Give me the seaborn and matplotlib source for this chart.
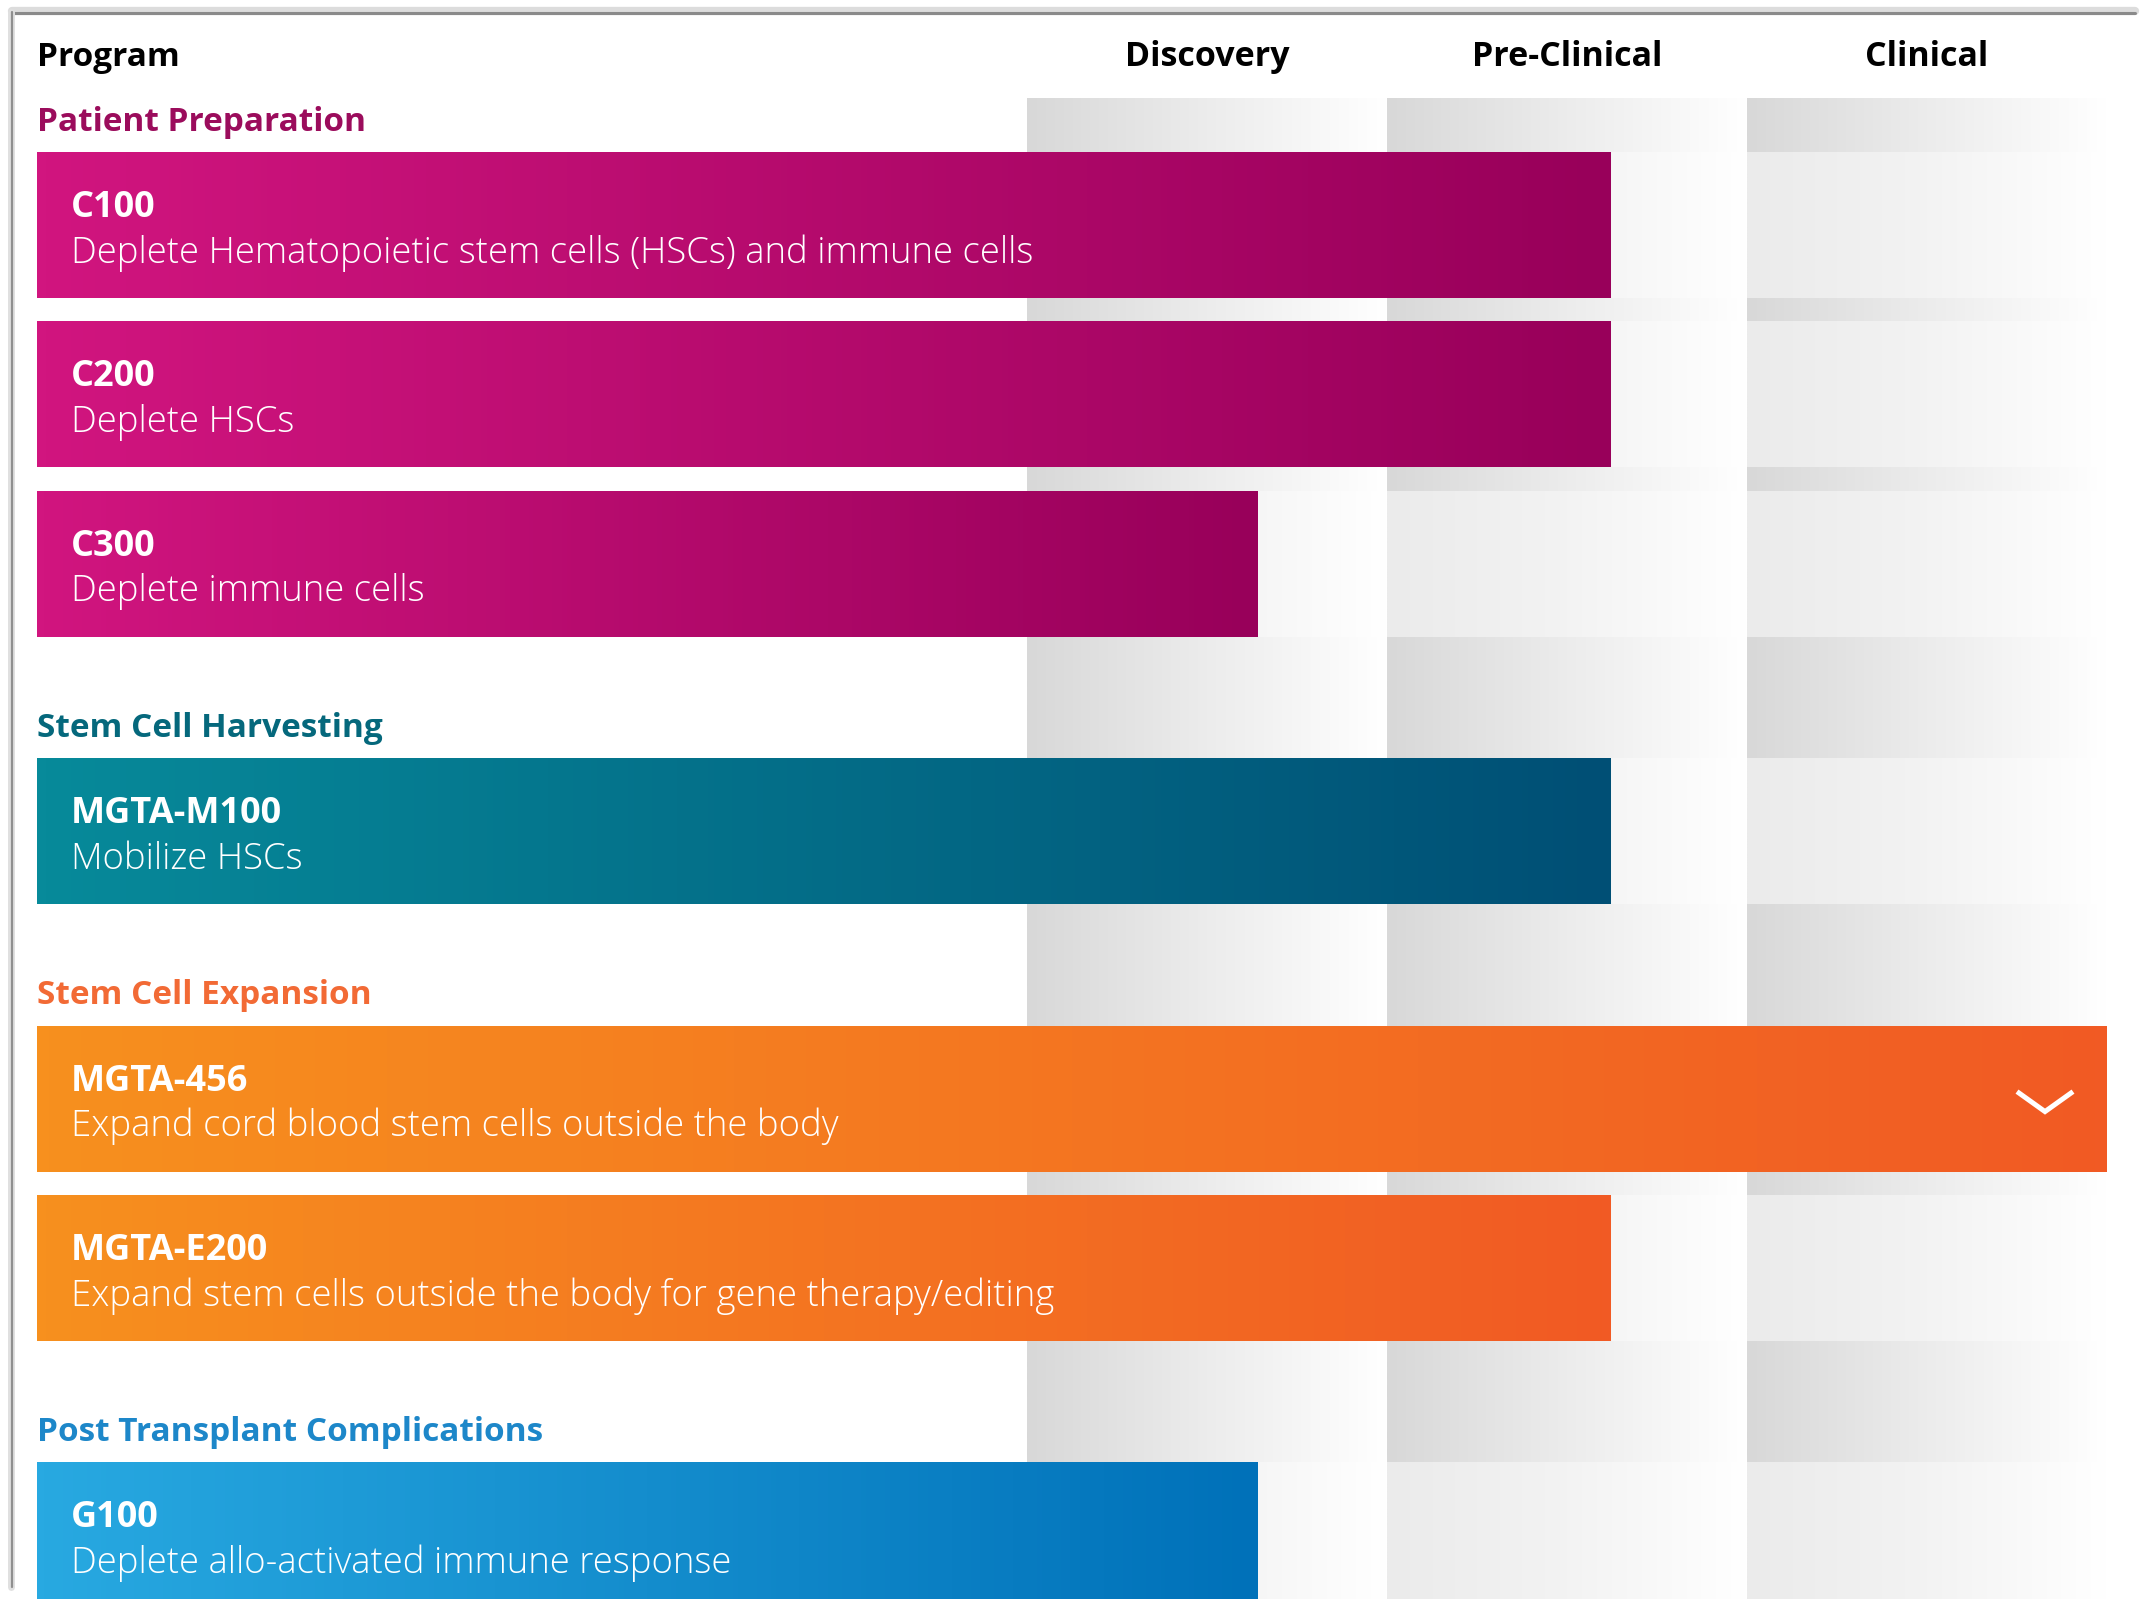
import numpy as np
import pandas as pd
import matplotlib
matplotlib.use("Agg")
import matplotlib.pyplot as plt
import seaborn as sns
from matplotlib import transforms
from matplotlib.lines import Line2D
from matplotlib.colors import LinearSegmentedColormap

# ---------------- data ----------------
programs = ["C100", "C200", "C300", "MGTA-M100", "MGTA-456", "MGTA-E200", "G100"]
descriptions = [
    "Deplete Hematopoietic stem cells (HSCs) and immune cells",
    "Deplete HSCs",
    "Deplete immune cells",
    "Mobilize HSCs",
    "Expand cord blood stem cells outside the body",
    "Expand stem cells outside the body for gene therapy/editing",
    "Deplete allo-activated immune response",
]
groups = ["Patient Preparation", "Patient Preparation", "Patient Preparation",
          "Stem Cell Harvesting",
          "Stem Cell Expansion", "Stem Cell Expansion",
          "Post Transplant Complications"]
# progress through phases: Discovery 0-1, Pre-Clinical 1-2, Clinical 2-3
progress = [1.62, 1.62, 0.64, 1.62, 3.0, 1.62, 0.64]
expandable = [False, False, False, False, True, False, False]
phases = ["Discovery", "Pre-Clinical", "Clinical"]

group_names = ["Patient Preparation", "Stem Cell Harvesting",
               "Stem Cell Expansion", "Post Transplant Complications"]
group_label_colors = ["#9b0c5c", "#05687c", "#f26a35", "#1d87c9"]
grad_start = ["#d1157f", "#078a9a", "#f7901e", "#28a9e1"]
grad_end = ["#98005a", "#004f75", "#f15a24", "#0071b9"]

# ---------------- layout ----------------
FIG_W, FIG_H = 2144, 1599
PHASE_PX = 360.0          # pixel width of one phase column
LABEL_SPAN = 2.75         # phase-widths between bar start and Discovery column
ROW_PX = 169.3            # pixel pitch between consecutive bars
GROUP_GAP = 0.58          # extra rows taken by a group heading
BAR_FRAC = 146.0 / ROW_PX
LEFT_PX = 37.0
FIRST_CENTER_PX = 225.0

FONT = "Open Sans"
FS_HEAD = 24
FS_COL = 24.5
FS_NAME = 26
FS_DESC = 26.3

sns.set_theme(style="white")
plt.rcParams["font.family"] = [FONT, "DejaVu Sans"]

gidx = [group_names.index(g) for g in groups]
ypos = [i + GROUP_GAP * g for i, g in enumerate(gidx)]

df = pd.DataFrame({
    "program": programs,
    "group": groups,
    "length": [LABEL_SPAN + p for p in progress],
    "ypos": ypos,
})

fig = plt.figure(figsize=(FIG_W / 100, FIG_H / 100), dpi=100)
ax = fig.add_axes([0, 0, 1, 1])

sns.barplot(data=df, x="length", y="ypos", hue="group", hue_order=group_names,
            palette=dict(zip(group_names, grad_start)), orient="y",
            native_scale=True, width=BAR_FRAC, dodge=False, legend=False,
            errorbar=None, saturation=1, linewidth=0, ax=ax, zorder=3)

xl = -LEFT_PX / PHASE_PX
xr = xl + FIG_W / PHASE_PX
yt = ypos[0] - FIRST_CENTER_PX / ROW_PX
yb = yt + FIG_H / ROW_PX

px_x = 1.0 / PHASE_PX
px_y = 1.0 / ROW_PX

bars = list(ax.patches)
bar_info = []
for p in bars:
    cy = p.get_y() + p.get_height() / 2
    i = int(np.argmin([abs(cy - y) for y in ypos]))
    bar_info.append((i, p))
bar_info.sort(key=lambda t: t[0])

# ---- gray phase columns ----
bg_top = ypos[0] - BAR_FRAC / 2 - 54 * px_y
dark = LinearSegmentedColormap.from_list("dark", ["#d8d8d8", "#ececec", "#ffffff"])
light = LinearSegmentedColormap.from_list("light", ["#ebebeb", "#f3f3f3", "#ffffff"])
grad = np.linspace(0, 1, 256).reshape(1, -1)
for k in range(len(phases)):
    c0 = LABEL_SPAN + k
    ax.imshow(grad, cmap=dark, extent=(c0, c0 + 1, yb, bg_top), aspect="auto",
              zorder=0, interpolation="bilinear")
    for i, p in bar_info:
        y0 = p.get_y()
        y1 = y0 + p.get_height()
        ax.imshow(grad, cmap=light, extent=(c0, c0 + 1, y1, y0), aspect="auto",
                  zorder=1, interpolation="bilinear")

# ---- gradient bars ----
for i, p in bar_info:
    g = gidx[i]
    cmap = LinearSegmentedColormap.from_list(f"g{i}", [grad_start[g], grad_end[g]])
    x0 = p.get_x()
    x1 = x0 + p.get_width()
    y0 = p.get_y()
    y1 = y0 + p.get_height()
    im = ax.imshow(grad, cmap=cmap, extent=(x0, x1, y1, y0), aspect="auto",
                   zorder=4, interpolation="bilinear")
    im.set_clip_path(p)
    # texts
    ax.text(x0 + 34 * px_x, y0 + 56 * px_y, programs[i], color="white",
            fontsize=FS_NAME, fontweight="bold", va="center", ha="left", zorder=6)
    ax.text(x0 + 34 * px_x, y0 + 101 * px_y, descriptions[i], color="white",
            fontsize=FS_DESC, fontweight="light", va="center", ha="left", zorder=6)
    if expandable[i]:
        cx = x1 - 62 * px_x
        cy = y0 + 76 * px_y
        ax.plot([cx - 28 * px_x, cx, cx + 28 * px_x],
                [cy - 10 * px_y, cy + 10 * px_y, cy - 10 * px_y],
                color="white", lw=3.6, solid_joinstyle="miter",
                solid_capstyle="butt", zorder=7)

# ---- group headings ----
seen = set()
for i, p in bar_info:
    g = gidx[i]
    if g in seen:
        continue
    seen.add(g)
    ax.text(p.get_x(), p.get_y() - 30 * px_y, group_names[g],
            color=group_label_colors[g], fontsize=FS_HEAD, fontweight="bold",
            va="center", ha="left", zorder=6)

# ---- column headers ----
hdr_y = 1 - 57 / FIG_H
btrans = transforms.blended_transform_factory(ax.transData, fig.transFigure)
fig.text(LEFT_PX / FIG_W, hdr_y, "Program", fontsize=FS_HEAD, fontweight="bold",
         color="black", va="center", ha="left")
for k, ph in enumerate(phases):
    ax.text(LABEL_SPAN + k + 0.5, hdr_y, ph, transform=btrans, fontsize=FS_COL,
            fontweight="bold", color="black", va="center", ha="center")

# ---- frame lines ----
fig.add_artist(Line2D([12 / FIG_W, 2135 / FIG_W], [1 - 11 / FIG_H, 1 - 11 / FIG_H],
                      transform=fig.transFigure, color="#dcdcdc", lw=6))
fig.add_artist(Line2D([12 / FIG_W, 2135 / FIG_W], [1 - 13 / FIG_H, 1 - 13 / FIG_H],
                      transform=fig.transFigure, color="#8a8a8a", lw=2.2))
fig.add_artist(Line2D([11 / FIG_W, 11 / FIG_W], [1 - 12 / FIG_H, 12 / FIG_H],
                      transform=fig.transFigure, color="#e0e0e0", lw=5))
fig.add_artist(Line2D([12 / FIG_W, 12 / FIG_W], [1 - 12 / FIG_H, 12 / FIG_H],
                      transform=fig.transFigure, color="#8f8f8f", lw=1.6))

ax.set_xlim(xl, xr)
ax.set_ylim(yb, yt)
ax.set_axis_off()

fig.savefig("out.png", dpi=100, facecolor="white")
